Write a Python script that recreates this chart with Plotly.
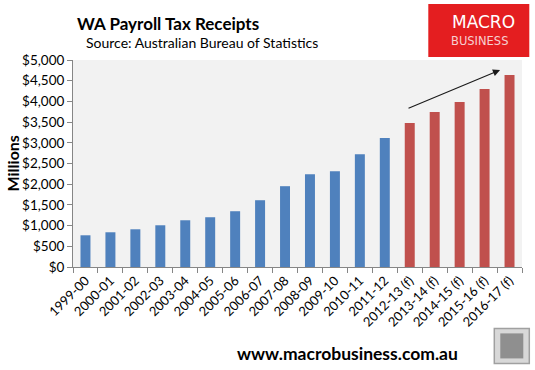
import plotly.graph_objects as go

hist_years = ["1999-00", "2000-01", "2001-02", "2002-03", "2003-04", "2004-05",
              "2005-06", "2006-07", "2007-08", "2008-09", "2009-10", "2010-11", "2011-12"]
hist_values = [766, 839, 911, 1008, 1129, 1202, 1347, 1613, 1952, 2242, 2315, 2726, 3113]

fc_years = ["2012-13 (f)", "2013-14 (f)", "2014-15 (f)", "2015-16 (f)", "2016-17 (f)"]
fc_values = [3476, 3742, 3984, 4298, 4637]

y_ticks = [0, 500, 1000, 1500, 2000, 2500, 3000, 3500, 4000, 4500, 5000]
y_tick_labels = ["$" + format(v, ",") for v in y_ticks]

W, H = 535, 370
L, R, T, B = 72.7, 13.3, 60, 103.3
PW, PH = W - L - R, H - T - B

FONT = "Lato, 'Open Sans', sans-serif"
LOGO_FONT = "'DejaVu Sans', sans-serif"


def fx(p):
    return (p - L) / PW


def fy(p):
    return (H - B - p) / PH


fig = go.Figure()
fig.add_trace(go.Bar(x=hist_years, y=hist_values, marker_color="#4F81BD",
                     marker_line_width=0, showlegend=False))
fig.add_trace(go.Bar(x=fc_years, y=fc_values, marker_color="#C0504D",
                     marker_line_width=0, showlegend=False))

annotations = [
    dict(text="<b>WA Payroll Tax Receipts</b>", xref="paper", yref="paper",
         x=fx(75), y=fy(24), xanchor="left", yanchor="middle", showarrow=False,
         font=dict(family=FONT, size=17, color="#000000")),
    dict(text="Source: Australian Bureau of Statistics", xref="paper", yref="paper",
         x=fx(84), y=fy(43), xanchor="left", yanchor="middle", showarrow=False,
         font=dict(family=FONT, size=14, color="#000000")),
    dict(text="<b>Millions</b>", xref="paper", yref="paper",
         x=fx(12), y=fy(163), xanchor="center", yanchor="middle", textangle=-90,
         showarrow=False, font=dict(family=FONT, size=16, color="#000000")),
    dict(text="<b>www.macrobusiness.com.au</b>", xref="paper", yref="paper",
         x=fx(347), y=fy(353), xanchor="center", yanchor="middle", showarrow=False,
         font=dict(family=FONT, size=17.5, color="#000000")),
    dict(text="MACRO", xref="paper", yref="paper",
         x=fx(483), y=fy(22), xanchor="center", yanchor="middle", showarrow=False,
         font=dict(family=LOGO_FONT, size=17, color="#FFFFFF")),
    dict(text="BUSINESS", xref="paper", yref="paper",
         x=fx(479.5), y=fy(41), xanchor="center", yanchor="middle", showarrow=False,
         font=dict(family=LOGO_FONT, size=11.5, color="#F6D0D0")),
    dict(x=16.62, y=4758, ax=12.89, ay=3822, xref="x", yref="y",
         axref="x", ayref="y", text="", showarrow=True,
         arrowhead=2, arrowsize=1.3, arrowwidth=1.1, arrowcolor="#1a1a1a",
         standoff=0, startstandoff=0),
]

shapes = [
    dict(type="rect", xref="paper", yref="paper",
         x0=fx(428), x1=fx(529), y0=fy(57), y1=fy(4),
         fillcolor="#E41E20", line=dict(width=0), layer="below"),
    dict(type="rect", xref="paper", yref="paper",
         x0=fx(494), x1=fx(529), y0=fy(363), y1=fy(328),
         fillcolor="#D8D8D8", line=dict(width=1.5, color="#A0A0A0")),
    dict(type="rect", xref="paper", yref="paper",
         x0=fx(500), x1=fx(523), y0=fy(358), y1=fy(333),
         fillcolor="#8F8F8F", line=dict(width=0)),
]

fig.update_layout(
    width=W, height=H,
    margin=dict(l=L, r=R, t=T, b=B, pad=0),
    paper_bgcolor="#FFFFFF",
    plot_bgcolor="#F2F2F2",
    barmode="overlay",
    bargap=0.6,
    font=dict(family=FONT, size=13, color="#000000"),
    annotations=annotations,
    shapes=shapes,
    xaxis=dict(
        type="category",
        categoryorder="array", categoryarray=hist_years + fc_years,
        tickangle=-45, tickson="boundaries", ticks="outside", ticklen=5,
        tickcolor="#868686", showline=True, linecolor="#868686", linewidth=1,
        showgrid=False, tickfont=dict(family=FONT, size=13, color="#000000"),
        range=[-0.5, 17.5],
    ),
    yaxis=dict(
        range=[0, 5000], tickvals=y_ticks, ticktext=y_tick_labels,
        ticks="outside", ticklen=5, tickcolor="#868686",
        showline=True, linecolor="#868686", linewidth=1,
        showgrid=False, zeroline=False,
        tickfont=dict(family=FONT, size=13.5, color="#000000"),
    ),
)

fig.write_html("out.html", config={"displayModeBar": False},
               post_script="document.body.style.margin='0';document.body.style.overflow='hidden';")
